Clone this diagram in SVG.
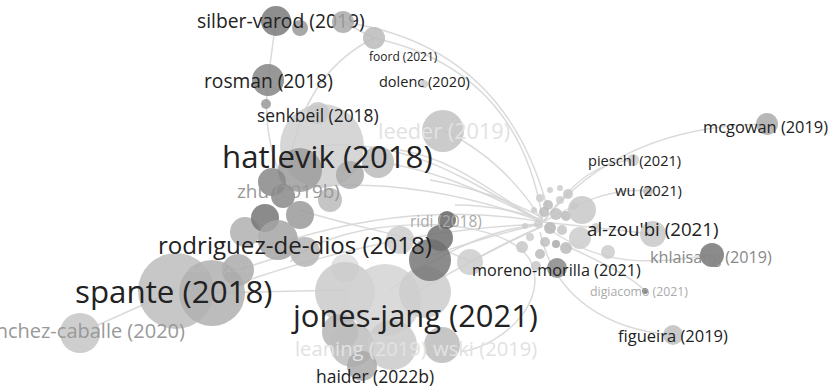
<svg xmlns="http://www.w3.org/2000/svg" width="832" height="391" viewBox="0 0 832 391">
<style>
.e{fill:none;stroke:#d6d6d6;stroke-width:1.5;opacity:.9}
.b{fill-opacity:.85}
text{font-family:"Open Sans","Noto Sans","DejaVu Sans",sans-serif;fill:#222}
.g1{fill:#999}
.g2{fill:#aaa}
.f{fill:#e2e2e2}
</style>
<rect width="832" height="391" fill="#fff"/>
<g id="connectors">
<path class="e" d="M374,38 Q520,70 543,222"/>
<path class="e" d="M343,22 Q505,45 548,210"/>
<path class="e" d="M443,130 Q505,160 543,222"/>
<path class="e" d="M325,145 C420,140 480,190 543,222"/>
<path class="e" d="M360,160 C430,165 490,195 543,222"/>
<path class="e" d="M400,150 C460,160 500,200 543,222"/>
<path class="e" d="M280,190 C380,175 470,195 543,222"/>
<path class="e" d="M290,240 Q420,200 543,222"/>
<path class="e" d="M212,293 Q380,230 543,224"/>
<path class="e" d="M390,290 Q470,230 543,224"/>
<path class="e" d="M433,255 Q500,232 543,224"/>
<path class="e" d="M420,290 Q490,250 543,226"/>
<path class="e" d="M470,262 Q510,240 543,226"/>
<path class="e" d="M455,205 Q500,205 543,220"/>
<path class="e" d="M430,180 Q490,190 543,218"/>
<path class="e" d="M276,20 L268,80"/>
<path class="e" d="M268,80 Q262,130 280,175"/>
<path class="e" d="M374,38 Q310,70 292,150"/>
<path class="e" d="M343,22 L374,38"/>
<path class="e" d="M212,293 L345,290"/>
<path class="e" d="M238,270 L300,250"/>
<path class="e" d="M80,333 L176,290"/>
<path class="e" d="M290,262 C340,215 500,210 530,260 C550,300 505,345 460,352"/>
<path class="e" d="M300,210 C360,230 420,235 470,262"/>
<path class="e" d="M543,222 C600,150 680,125 767,124"/>
<path class="e" d="M543,222 C575,178 600,162 633,160"/>
<path class="e" d="M543,222 C590,196 620,188 648,191"/>
<path class="e" d="M543,222 L653,234"/>
<path class="e" d="M545,226 C600,268 650,264 712,255"/>
<path class="e" d="M540,232 C555,300 610,330 673,335"/>
<path class="e" d="M565,245 C600,262 630,275 645,291"/>
</g>
<g id="hub">
<circle class="b" cx="540" cy="198" r="4" fill="#ccc"/>
<circle class="b" cx="548" cy="205" r="5" fill="#bbb"/>
<circle class="b" cx="560" cy="200" r="4" fill="#ccc"/>
<circle class="b" cx="568" cy="194" r="5" fill="#c5c5c5"/>
<circle class="b" cx="544" cy="212" r="5" fill="#bbb"/>
<circle class="b" cx="556" cy="214" r="6" fill="#c0c0c0"/>
<circle class="b" cx="566" cy="216" r="5" fill="#bbb"/>
<circle class="b" cx="538" cy="224" r="4" fill="#ccc"/>
<circle class="b" cx="550" cy="228" r="6" fill="#b5b5b5"/>
<circle class="b" cx="562" cy="230" r="5" fill="#c5c5c5"/>
<circle class="b" cx="545" cy="242" r="5" fill="#c0c0c0"/>
<circle class="b" cx="556" cy="244" r="4" fill="#aaa"/>
<circle class="b" cx="566" cy="248" r="6" fill="#bbb"/>
<circle class="b" cx="540" cy="254" r="5" fill="#bbb"/>
<circle class="b" cx="530" cy="237" r="4" fill="#ccc"/>
<circle class="b" cx="534" cy="210" r="3" fill="#ccc"/>
<circle class="b" cx="574" cy="206" r="4" fill="#ccc"/>
<circle class="b" cx="522" cy="247" r="6" fill="#c8c8c8"/>
<circle class="b" cx="560" cy="188" r="3" fill="#ccc"/>
<circle class="b" cx="550" cy="190" r="3" fill="#ccc"/>
<circle class="b" cx="536" cy="266" r="5" fill="#c8c8c8"/>
<circle class="b" cx="525" cy="226" r="3" fill="#ccc"/>
<circle class="b" cx="582" cy="210" r="14" fill="#c8c8c8"/>
<circle class="b" cx="580" cy="238" r="11" fill="#cdcdcd"/>
<circle class="b" cx="596" cy="228" r="5" fill="#ccc"/>
<circle class="b" cx="608" cy="252" r="7" fill="#ccc"/>
</g>
<g id="left-cluster">
<circle class="b" cx="322" cy="146" r="42" fill="#cfcfcf"/>
<circle class="b" cx="378" cy="162" r="16" fill="#bbb"/>
<circle class="b" cx="350" cy="175" r="14" fill="#aaa"/>
<circle class="b" cx="300" cy="170" r="22" fill="#9c9c9c"/>
<circle class="b" cx="272" cy="182" r="14" fill="#888"/>
<circle class="b" cx="283" cy="196" r="12" fill="#8a8a8a"/>
<circle class="b" cx="330" cy="200" r="12" fill="#bbb"/>
<circle class="b" cx="245" cy="232" r="15" fill="#b0b0b0"/>
<circle class="b" cx="265" cy="218" r="14" fill="#777"/>
<circle class="b" cx="300" cy="215" r="14" fill="#9a9a9a"/>
<circle class="b" cx="278" cy="240" r="20" fill="#a5a5a5"/>
<circle class="b" cx="305" cy="252" r="15" fill="#b5b5b5"/>
<circle class="b" cx="345" cy="268" r="14" fill="#ddd"/>
<circle class="b" cx="400" cy="240" r="14" fill="#ccc"/>
</g>
<g id="jones-jang-cluster">
<circle class="b" cx="345" cy="292" r="30" fill="#cacaca"/>
<circle class="b" cx="385" cy="300" r="36" fill="#d4d4d4"/>
<circle class="b" cx="425" cy="292" r="26" fill="#cdcdcd"/>
<circle class="b" cx="470" cy="262" r="13" fill="#ccc"/>
<circle class="b" cx="340" cy="332" r="18" fill="#b5b5b5"/>
<circle class="b" cx="352" cy="345" r="22" fill="#bdbdbd"/>
<circle class="b" cx="392" cy="345" r="25" fill="#cacaca"/>
<circle class="b" cx="442" cy="345" r="18" fill="#bcbcbc"/>
<circle class="b" cx="362" cy="366" r="15" fill="#aaa"/>
</g>
<g id="n-spante"><circle class="b" cx="176" cy="291" r="38" fill="#bdbdbd"/><circle class="b" cx="212" cy="293" r="33" fill="#b0b0b0"/><circle class="b" cx="238" cy="270" r="16" fill="#aaa"/><text x="75" y="303" font-size="31.3">spante (2018)</text></g>
<g id="n-ridi"><circle class="b" cx="430" cy="260" r="21" fill="#777"/><circle class="b" cx="440" cy="238" r="13" fill="#6e6e6e"/><circle class="b" cx="447" cy="220" r="9" fill="#666"/><text class="g2" x="410" y="227" font-size="15.4">ridi (2018)</text></g>
<g id="n-silber-varod"><circle class="b" cx="276" cy="21" r="15" fill="#7a7a7a"/><circle class="b" cx="300" cy="28" r="8" fill="#999"/><text x="197" y="28" font-size="19.3">silber-varod (2019)</text></g>
<g id="n-foord"><circle class="b" cx="343" cy="22" r="11" fill="#aaa"/><circle class="b" cx="374" cy="38" r="11" fill="#bbb"/><text x="369" y="61" font-size="12">foord (2021)</text></g>
<g id="n-rosman"><circle class="b" cx="268" cy="80" r="16" fill="#858585"/><circle class="b" cx="266" cy="104" r="5" fill="#999"/><text x="204" y="88" font-size="19.2">rosman (2018)</text></g>
<g id="n-dolenc"><circle class="b" cx="424" cy="84" r="4" fill="#ccc"/><text x="379" y="87" font-size="14.5">dolenc (2020)</text></g>
<g id="n-senkbeil"><circle class="b" cx="318" cy="113" r="11" fill="#c8c8c8"/><text x="257" y="122" font-size="17.4">senkbeil (2018)</text></g>
<g id="n-leeder"><circle class="b" cx="443" cy="131" r="21" fill="#c2c2c2"/><text class="f" x="378" y="139" font-size="21.7">leeder (2019)</text></g>
<g id="n-sanchez-caballe"><circle class="b" cx="80" cy="333" r="20" fill="#c5c5c5"/><text class="g1" x="-25" y="338" font-size="20">sanchez-caballe (2020)</text></g>
<g id="n-moreno-morilla"><circle class="b" cx="557" cy="268" r="10" fill="#888"/><text x="472" y="276" font-size="16.2">moreno-morilla (2021)</text></g>
<g id="n-digiacomo"><circle cx="645" cy="291" r="3" fill="#888"/><text class="g2" x="590" y="296" font-size="12.3">digiacomo (2021)</text></g>
<g id="n-figueira"><circle class="b" cx="673" cy="335" r="10" fill="#c0c0c0"/><text x="618" y="342" font-size="16.5">figueira (2019)</text></g>
<g id="n-khlaisang"><circle class="b" cx="712" cy="255" r="12" fill="#777"/><text x="650" y="263" font-size="16.2" style="fill:#888">khlaisang (2019)</text></g>
<g id="n-al-zoubi"><circle class="b" cx="653" cy="234" r="13" fill="#c8c8c8"/><text x="587" y="236" font-size="18.7">al-zou'bi (2021)</text></g>
<g id="n-wu"><circle class="b" cx="648" cy="191" r="5" fill="#bbb"/><text x="615" y="196" font-size="14.8">wu (2021)</text></g>
<g id="n-pieschl"><circle class="b" cx="633" cy="160" r="6" fill="#ccc"/><text x="588" y="166" font-size="14.6">pieschl (2021)</text></g>
<g id="n-mcgowan"><circle class="b" cx="767" cy="124" r="11" fill="#aaa"/><text x="703" y="133" font-size="16.4">mcgowan (2019)</text></g>
<g id="n-aubrin"><text x="188" y="272" font-size="10.5" style="fill:#bbb">aubrin (2022)</text></g>
<g id="n-hatlevik"><text x="222" y="168" font-size="31.2">hatlevik (2018)</text></g>
<g id="n-zhu"><text class="g1" x="237" y="198" font-size="18.9">zhu (2019b)</text></g>
<g id="n-rodriguez-de-dios"><text x="158" y="254" font-size="24.1">rodriguez-de-dios (2018)</text></g>
<g id="n-jones-jang"><text x="293" y="327" font-size="30.9">jones-jang (2021)</text></g>
<g id="n-leaning"><text class="f" x="295" y="356" font-size="20.2">leaning (2019)</text></g>
<g id="n-wski"><text class="f" x="433" y="356" font-size="20.2">wski (2019)</text></g>
<g id="n-haider"><text x="316" y="383" font-size="17.5">haider (2022b)</text></g>
</svg>
